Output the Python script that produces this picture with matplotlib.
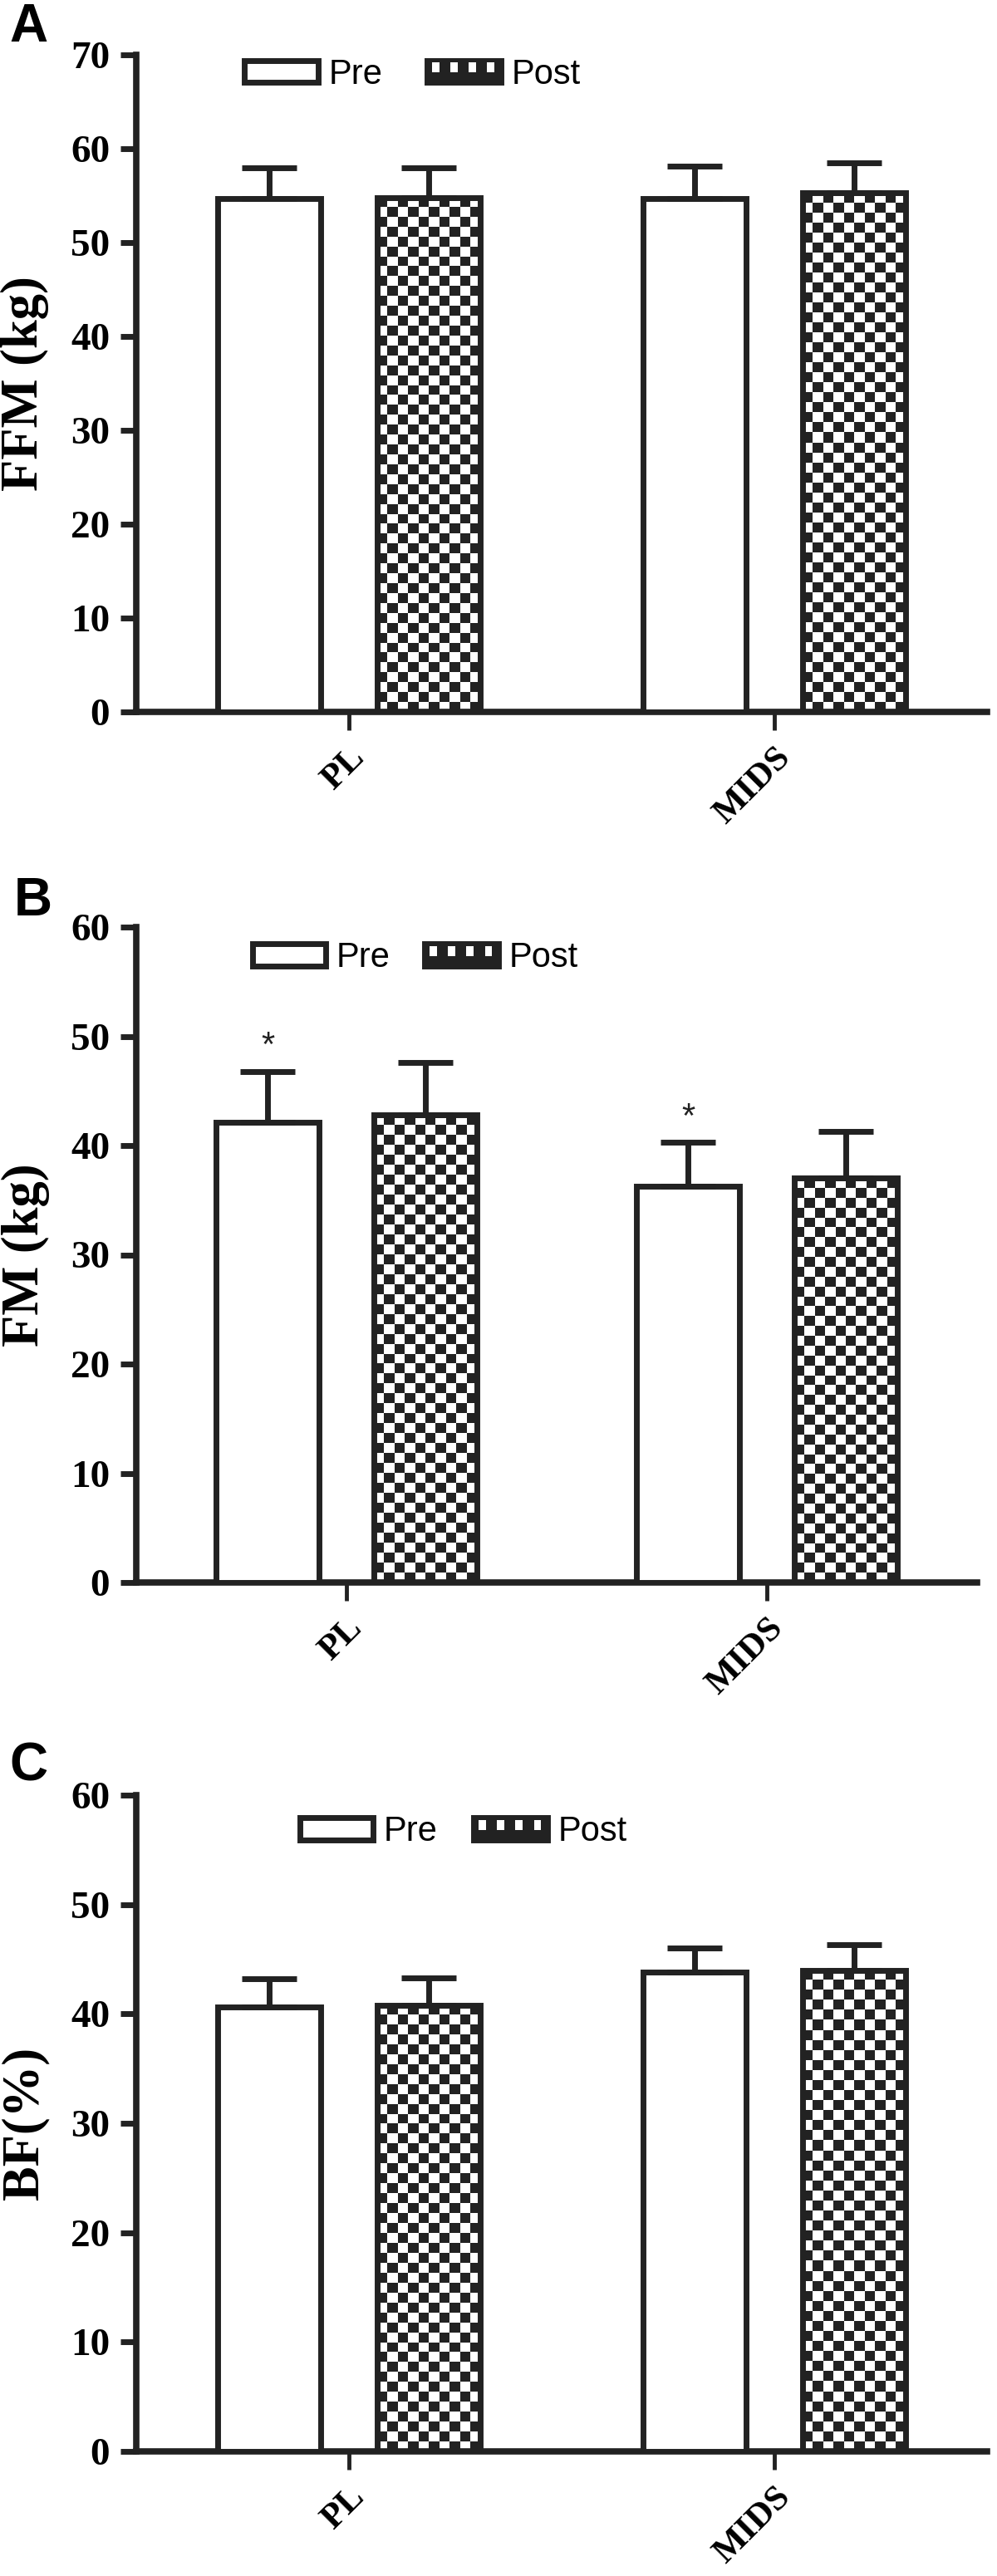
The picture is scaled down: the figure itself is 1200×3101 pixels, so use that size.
import numpy as np
import matplotlib
matplotlib.use('Agg')
import matplotlib.pyplot as plt
from matplotlib.patches import Rectangle
from matplotlib.legend_handler import HandlerBase
from matplotlib.colors import ListedColormap

# ---- data ----
groups = ['PL', 'MIDS']
series = ['Pre', 'Post']

ffm_pre = [54.7, 54.7]
ffm_pre_err = [3.3, 3.4]
ffm_post = [54.8, 55.3]
ffm_post_err = [3.2, 3.2]

fm_pre = [42.1, 36.3]
fm_pre_err = [4.7, 4.0]
fm_post = [42.8, 37.0]
fm_post_err = [4.8, 4.3]
fm_pre_sig = [True, True]

bf_pre = [40.6, 43.8]
bf_pre_err = [2.6, 2.25]
bf_post = [40.8, 44.0]
bf_post_err = [2.5, 2.3]

panel_letters = ['A', 'B', 'C']
ylabels = ['FFM (kg)', 'FM (kg)', 'BF(%)']
ymaxes = [70, 60, 60]

# ---- style ----
DARK = '#222222'
W, H = 1200, 3101
CELL = 12  # checker cell in px
plt.rcParams['font.family'] = ['Liberation Serif', 'DejaVu Serif']
plt.rcParams['font.weight'] = 'bold'

fig = plt.figure(figsize=(W / 100, H / 100), dpi=100)

# axes boxes in pixels: left, top, right, bottom
boxes = [(164, 66, 1188, 857), (164, 1116, 1176, 1905), (164, 2161, 1188, 2951)]
letter_pos = [(11, 50), (17, 1102), (11, 2143)]
legend_pos = [(0.127, 0.970, 1.3), (0.138, 0.953, 1.0), (0.192, 0.944, 1.05)]

bw = 0.244
off = 0.1875


class CheckerKey:
    pass


class CheckerHandler(HandlerBase):
    def create_artists(self, legend, orig_handle, xdescent, ydescent,
                       width, height, fontsize, trans):
        x0, y0 = -xdescent, -ydescent
        arts = [Rectangle((x0, y0), width, height, facecolor=DARK,
                          edgecolor=DARK, lw=5, transform=trans)]
        n = 8
        cw = width / n
        for k in range(0, n, 2):
            arts.append(Rectangle((x0 + k * cw + cw * 0.5, y0 + height * 0.45),
                                  cw * 0.8, height * 0.45, facecolor='white',
                                  edgecolor='none', transform=trans))
        return arts


panel_data = [
    (ffm_pre, ffm_pre_err, ffm_post, ffm_post_err, None),
    (fm_pre, fm_pre_err, fm_post, fm_post_err, fm_pre_sig),
    (bf_pre, bf_pre_err, bf_post, bf_post_err, None),
]

x = np.arange(len(groups))
for i, (pre, pre_err, post, post_err, sig) in enumerate(panel_data):
    l, t, r, b = boxes[i]
    ax = fig.add_axes([l / W, 1 - b / H, (r - l) / W, (b - t) / H])
    ymax = ymaxes[i]
    ax.set_xlim(-0.5, 1.5)
    ax.set_ylim(0, ymax)

    ax.bar(x - off, pre, width=bw, facecolor='white', edgecolor=DARK,
           linewidth=5, zorder=3)
    post_bars = ax.bar(x + off, post, width=bw, facecolor='none',
                       edgecolor=DARK, linewidth=5, zorder=3)

    # checkerboard fill for the Post bars
    p0 = ax.transData.transform((0, 0))
    p1 = ax.transData.transform((1, 1))
    ppx, ppy = p1[0] - p0[0], p1[1] - p0[1]
    cmap = ListedColormap(['white', DARK])
    for rect in post_bars:
        bx, bwid, bh = rect.get_x(), rect.get_width(), rect.get_height()
        nc = max(1, int(round(bwid * ppx / CELL)))
        nr = max(1, int(round(bh * ppy / CELL)))
        board = np.indices((nr, nc)).sum(axis=0) % 2
        im = ax.imshow(board, extent=(bx, bx + bwid, 0, bh), origin='lower',
                       cmap=cmap, interpolation='nearest', aspect='auto',
                       zorder=2)
        im.set_clip_path(rect)

    ax.errorbar(x - off, pre, yerr=[np.zeros(len(pre)), pre_err], fmt='none',
                ecolor=DARK, elinewidth=5, capsize=24, capthick=5, zorder=4)
    ax.errorbar(x + off, post, yerr=[np.zeros(len(post)), post_err], fmt='none',
                ecolor=DARK, elinewidth=5, capsize=24, capthick=5, zorder=4)

    if sig is not None:
        for k, flag in enumerate(sig):
            if flag:
                ax.text(x[k] - off, pre[k] + pre_err[k] + 1.4, '*', ha='center',
                        va='baseline', fontsize=30, fontweight='normal',
                        family=['Liberation Sans'], color=DARK)

    ax.set_xlim(-0.5, 1.5)
    ax.set_ylim(0, ymax)

    for side in ['top', 'right']:
        ax.spines[side].set_visible(False)
    for side in ['left', 'bottom']:
        ax.spines[side].set_linewidth(5.5)
        ax.spines[side].set_color(DARK)

    ax.set_yticks(np.arange(0, ymax + 1, 10))
    ax.tick_params(axis='y', direction='out', length=14, width=5, pad=9,
                   labelsize=34, color=DARK)
    ax.set_xticks(x, groups, rotation=45, ha='right', rotation_mode='anchor')
    ax.tick_params(axis='x', direction='out', length=16, width=3.5, pad=10,
                   labelsize=31, color=DARK)

    ax.set_ylabel(ylabels[i], fontsize=45, fontweight='bold')
    ax.yaxis.set_label_coords(-0.1025, 0.5)

    handles = [Rectangle((0, 0), 1, 1, facecolor='white', edgecolor=DARK, lw=5),
               CheckerKey()]
    lx, ly, cs = legend_pos[i]
    ax.legend(handles, series, handler_map={CheckerKey: CheckerHandler()},
              loc='center left', bbox_to_anchor=(lx, ly), ncol=2, frameon=False,
              borderpad=0, borderaxespad=0, handlelength=2.13, handleheight=0.6,
              handletextpad=0.3, columnspacing=cs,
              prop={'family': 'Liberation Sans', 'size': 30, 'weight': 'normal'})

    lxp, lyp = letter_pos[i]
    fig.text(lxp / W, 1 - lyp / H, panel_letters[i], fontsize=46,
             fontweight='bold', family=['Liberation Sans'], va='baseline',
             ha='left', color='black')

fig.savefig('out.png', dpi=100)
